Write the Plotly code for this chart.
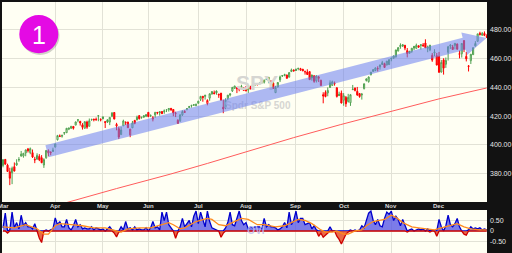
import plotly.graph_objects as go
import pandas as pd

# ---------------- data (SPY daily, Mar-Dec 2021) ----------------
holidays = ["2021-04-02", "2021-05-31", "2021-07-05", "2021-09-06", "2021-11-25", "2021-12-24"]
dates = pd.bdate_range("2021-03-01", "2021-12-31", freq="C", holidays=holidays)

opens = [
    385.6, 389.8, 385.8, 381.2, 380.5, 384.7, 385.9, 389.7, 392.2, 392.1, 394.3, 397.1, 394.5, 394.5, 389.9, 390.0, 391.9, 391.0, 385.9, 390.9, 394.4, 394.4, 395.3,
    398.4, 403.5, 405.8, 405.9, 408.1, 408.4, 410.9, 411.5, 412.8, 413.7, 417.3, 416.3, 413.9, 411.5, 415.9, 412.9, 417.4, 417.9, 417.8, 420.3, 417.6,
    419.4, 416.1, 417.4, 415.8, 419.9, 422.5, 413.1, 411.2, 407.1, 413.2, 415.4, 415.8, 406.9, 411.8, 416.9, 417.3, 420.3, 418.9, 420.2, 421.0,
    422.6, 420.4, 417.9, 420.8, 422.6, 423.1, 423.2, 423.0, 424.2, 424.4, 425.4, 424.6, 421.7, 417.1, 416.8, 420.9, 423.2, 424.9, 425.9, 427.2, 427.9, 427.2,
    428.9, 431.7, 433.8, 433.7, 428.8, 432.5, 435.4, 436.2, 437.4, 435.3, 436.0, 426.2, 425.7, 432.3, 434.7, 437.5, 439.3, 439.9, 439.7, 439.8, 437.9,
    440.3, 438.2, 439.8, 440.2, 442.1, 442.5, 442.6, 443.8, 443.6, 445.6, 444.5, 444.2, 443.0, 436.3, 440.2, 445.2, 448.2, 448.2, 448.6, 447.1, 451.0, 452.1,
    452.6, 453.3, 452.0, 452.7, 450.9, 450.7, 451.0, 448.6, 448.1, 444.6, 446.3, 444.9, 434.9, 436.5, 436.1, 439.9, 441.4, 442.8, 439.7, 435.2, 436.0,
    431.0, 433.0, 430.2, 429.3, 438.4, 439.5, 437.2, 435.7, 434.7, 439.1, 444.8, 444.0, 448.9, 451.1, 451.8, 453.1, 454.3, 457.2, 456.5, 455.5, 455.9,
    460.3, 460.3, 461.3, 465.4, 469.3, 469.7, 469.3, 465.6, 465.2, 465.1, 468.6, 467.2, 469.0, 469.2, 469.6, 470.9, 467.2, 466.1, 462.3, 464.1, 462.0,
    461.6, 450.7, 459.2, 456.1, 464.4, 468.7, 468.2, 469.2, 470.2, 463.1, 463.4, 472.6, 461.6, 454.5, 458.6, 462.8, 468.8, 472.1, 477.7, 476.4, 477.6, 475.6,
]
highs = [
    390.0, 390.1, 386.8, 384.0, 384.8, 387.7, 389.9, 391.4, 395.7, 394.2, 396.7, 397.8, 398.1, 396.7, 391.6, 394.1, 393.5, 392.8, 390.6, 396.4, 396.8, 395.5, 398.0,
    400.7, 406.9, 407.2, 406.9, 408.6, 411.7, 411.9, 413.0, 413.0, 416.2, 417.9, 416.7, 415.1, 416.3, 416.8, 418.3, 418.2, 418.1, 419.0, 420.7, 418.5,
    419.8, 416.6, 417.6, 419.2, 422.8, 422.7, 415.3, 412.6, 412.6, 417.5, 416.4, 416.1, 411.1, 416.6, 417.4, 420.3, 420.7, 419.6, 420.7, 421.3,
    422.7, 421.2, 420.0, 422.9, 422.8, 423.2, 423.3, 424.6, 424.4, 425.4, 425.5, 424.9, 423.0, 417.8, 421.1, 424.0, 424.1, 425.6, 427.1, 427.6, 428.1, 428.8,
    430.6, 434.1, 434.0, 434.8, 431.7, 435.8, 437.4, 437.8, 437.9, 435.5, 436.1, 431.4, 432.4, 434.7, 435.7, 440.3, 441.0, 439.9, 440.3, 441.8, 440.1,
    440.9, 441.3, 441.1, 441.9, 442.9, 442.8, 443.4, 443.9, 445.3, 445.9, 447.1, 445.0, 444.6, 441.1, 443.7, 448.2, 448.5, 449.5, 448.9, 450.7, 453.1, 452.5,
    453.1, 453.6, 453.6, 452.8, 451.7, 452.6, 451.4, 448.9, 448.3, 448.4, 448.0, 445.4, 436.6, 437.9, 440.0, 444.9, 444.7, 444.1, 440.0, 437.0, 437.8,
    436.0, 434.0, 435.5, 435.1, 441.7, 439.9, 440.3, 436.1, 436.1, 442.7, 446.3, 447.6, 450.7, 452.7, 453.8, 454.7, 455.9, 458.5, 457.2, 458.4, 459.6,
    460.7, 462.2, 466.2, 468.0, 470.7, 470.2, 469.6, 467.4, 465.3, 467.4, 468.8, 470.5, 469.2, 470.0, 470.9, 473.5, 469.1, 469.6, 463.9, 466.6, 464.0,
    464.7, 459.1, 460.3, 460.8, 468.9, 470.0, 469.6, 470.9, 470.6, 465.7, 470.9, 472.9, 464.7, 455.4, 463.2, 467.8, 472.2, 477.3, 478.8, 478.6, 479.0, 477.0,
]
lows = [
    384.3, 386.2, 381.3, 371.9, 372.6, 381.4, 385.3, 388.2, 391.7, 391.0, 392.0, 394.6, 393.4, 390.8, 387.2, 389.5, 388.6, 387.2, 383.9, 390.3, 392.0, 392.7, 395.0,
    398.2, 403.0, 405.4, 405.0, 406.9, 408.3, 410.2, 411.1, 410.6, 413.7, 415.7, 413.4, 410.6, 411.3, 411.1, 412.8, 416.8, 416.3, 416.9, 416.4, 416.3,
    417.7, 411.7, 415.2, 413.7, 419.2, 417.8, 410.1, 404.0, 407.0, 413.2, 413.8, 411.8, 405.3, 411.7, 414.3, 417.1, 417.6, 418.2, 418.9, 419.3,
    419.2, 419.3, 416.3, 418.8, 421.2, 420.3, 421.4, 421.6, 422.8, 423.1, 423.5, 419.9, 419.3, 414.7, 415.9, 420.1, 422.5, 424.0, 425.6, 425.9, 427.2, 427.2,
    428.8, 430.5, 430.0, 431.5, 427.5, 430.7, 435.0, 435.3, 434.9, 432.7, 430.5, 422.0, 424.8, 431.0, 433.7, 436.8, 439.3, 436.0, 437.3, 439.8, 437.8,
    437.2, 436.1, 438.7, 439.9, 441.1, 441.3, 441.9, 442.6, 442.7, 445.1, 442.9, 440.9, 438.9, 436.1, 440.0, 443.7, 447.3, 447.8, 446.2, 447.0, 450.7, 450.9,
    451.7, 451.9, 451.6, 451.3, 448.9, 448.7, 445.3, 444.7, 443.2, 443.4, 443.7, 441.0, 428.9, 433.1, 433.8, 439.6, 441.2, 441.2, 432.9, 433.9, 428.8,
    427.2, 426.4, 429.4, 427.1, 438.2, 437.2, 434.1, 432.8, 431.5, 438.6, 444.1, 443.3, 448.3, 451.0, 451.3, 451.1, 452.4, 455.6, 453.9, 455.5, 455.6,
    458.2, 460.1, 460.8, 465.0, 466.9, 468.2, 465.9, 460.9, 463.7, 464.1, 466.0, 467.1, 467.5, 466.3, 468.5, 467.4, 464.5, 465.2, 457.8, 461.7, 455.3,
    450.3, 450.3, 448.9, 453.6, 458.7, 466.8, 466.1, 466.5, 466.3, 460.2, 460.8, 464.6, 458.1, 451.1, 456.3, 462.6, 468.6, 472.0, 476.1, 475.9, 475.7, 474.4,
]
closes = [
    389.6, 386.5, 381.4, 376.7, 383.6, 381.7, 387.2, 389.6, 393.5, 394.1, 396.4, 395.9, 397.3, 391.5, 389.5, 392.6, 389.5, 387.5, 389.7, 396.0, 395.8, 394.7, 396.3,
    400.6, 406.4, 406.1, 406.6, 408.5, 411.5, 411.6, 412.9, 411.5, 415.9, 417.3, 415.2, 412.2, 416.1, 412.3, 416.7, 417.6, 417.5, 417.4, 420.1, 417.3,
    418.2, 415.6, 415.8, 419.1, 422.1, 417.9, 414.2, 405.4, 410.3, 416.6, 415.5, 411.9, 410.9, 415.3, 414.9, 419.2, 418.2, 419.1, 419.3, 420.0,
    419.7, 420.3, 418.8, 422.6, 422.2, 422.3, 421.7, 423.6, 424.3, 425.3, 424.5, 422.1, 422.0, 414.9, 420.9, 423.1, 422.6, 425.1, 426.6, 427.5, 427.7, 428.1,
    430.4, 433.7, 432.9, 434.5, 430.9, 435.5, 437.1, 435.6, 436.2, 434.8, 431.3, 425.0, 431.1, 434.6, 435.5, 440.0, 441.0, 439.0, 438.8, 440.6, 438.5,
    437.6, 441.2, 439.0, 441.8, 442.5, 442.1, 443.0, 444.0, 445.1, 445.9, 447.0, 444.0, 439.2, 439.9, 443.4, 447.3, 448.0, 448.9, 446.3, 450.3, 452.2, 451.6,
    451.8, 453.2, 453.1, 451.5, 450.9, 449.0, 445.4, 446.6, 444.2, 447.9, 447.2, 441.4, 434.0, 433.6, 437.9, 443.2, 443.9, 442.6, 433.7, 434.4, 429.1,
    434.2, 428.6, 433.1, 434.9, 438.7, 437.9, 434.7, 433.6, 435.2, 442.5, 445.9, 447.2, 450.6, 452.4, 453.6, 453.1, 455.6, 456.0, 453.9, 458.3, 459.3,
    460.0, 461.9, 466.1, 467.7, 468.5, 468.9, 467.4, 463.6, 463.8, 467.3, 467.4, 469.3, 468.1, 469.7, 468.9, 467.6, 468.2, 469.4, 459.0, 464.6, 455.6,
    450.5, 457.4, 453.4, 458.8, 468.3, 469.5, 466.4, 470.7, 466.6, 463.4, 470.6, 466.5, 459.9, 455.0, 463.1, 467.7, 470.6, 477.3, 476.9, 477.5, 476.2, 475.0,
]

# 200-day moving average (read at a few points: trading-day index, value)
ma_idx = [20, 28.6, 50, 73.6, 90, 107, 128, 148.5, 170, 192, 213]
ma_val = [356.5, 360.0, 369.5, 379.5, 387.0, 395.2, 405.0, 414.0, 423.0, 432.0, 439.6]

# OVI oscillator, one value per trading day
ovi = [
    0.15, 0.85, -0.10, 0.05, 0.90, 0.15, 0.40, 0.10, 0.75, 0.25, 0.40, 0.20, 0.20, 0.10, 0.35, 0.00, -0.35, -0.55, 0.00, 0.05,
    0.00, 0.05, 0.10, 0.62, 0.30, 0.45, 0.20, 0.20, 0.55, 0.15, 0.05, 0.25, 0.55, 0.20, 0.30, 0.10, 0.15, 0.10, 0.10, 0.20,
    0.05, 0.15, 0.10, 0.05, 0.10, 0.00, 0.10, 0.20, 0.05, -0.10, -0.28, -0.05, 0.20, 0.05, 0.45, 0.10, 0.15, 0.05, 0.20, 0.05,
    0.10, 0.05, 0.05, 0.15, 0.00, 0.15, 0.45, 0.15, 0.20, 0.05, 0.90, 0.50, 0.90, 0.30, 0.15, 0.00, -0.35, -0.05, 0.20, 0.60,
    0.20, 0.35, 0.50, 0.20, 0.70, 0.95, 0.35, 0.90, 0.50, 0.20, 0.95, 0.45, 0.15, 0.10, 0.05, 0.00, -0.30, -0.10, 0.15, 0.40,
    0.90, 0.30, 0.25, 0.65, 0.95, 0.50, 0.30, 0.40, 0.10, 0.20, 0.15, 0.20, 0.20, 0.20, 0.10, 0.60, 0.20, 0.30, 0.20, 0.20,
    0.15, 0.05, 0.10, 0.20, 0.40, 0.15, 0.90, 0.30, 0.50, 0.95, 0.40, 0.60, 0.60, 0.30, 0.35, 0.40, 0.10, 0.25, 0.05, -0.25,
    -0.10, -0.30, -0.20, -0.10, 0.20, 0.00, 0.00, -0.25, -0.40, -0.62, -0.35, -0.15, -0.05, 0.05, 0.00, 0.05, 0.00, 0.05, 0.25, 0.15,
    0.55, 0.85, 0.95, 0.50, 0.30, 0.55, 0.25, 0.20, 0.60, 0.90, 0.80, 0.95, 0.50, 0.70, 0.55, 0.25, 0.55, 0.30, -0.05, 0.05,
    0.10, 0.00, 0.05, 0.10, 0.05, 0.10, 0.00, 0.10, -0.05, 0.05, 0.00, -0.25, 0.55, 0.20, 0.00, 0.25, 0.75, 0.30, 0.20, 0.35,
    0.60, 0.20, 0.00, -0.15, -0.20, 0.05, 0.20, 0.10, 0.15, 0.10, 0.15, 0.05, 0.10, 0.05,
]
# OVI signal line (read every few days: trading-day index, value)
sig_idx = [0, 5, 10, 15, 18, 20, 23, 25, 30, 35, 40, 45, 50, 52, 55, 60, 65, 70, 73, 75, 78, 80, 85, 90, 92, 95, 98, 100,
           105, 108, 112, 115, 120, 124, 128, 130, 133, 136, 138, 140, 142, 145, 147, 150, 152, 155, 158, 160, 163, 166, 168,
           171, 173, 176, 178, 180, 183, 186, 190, 193, 196, 200, 203, 206, 210, 213]
sig_val = [0.20, 0.15, 0.30, 0.10, -0.15, -0.15, 0.25, 0.35, 0.30, 0.25, 0.15, 0.15, 0.00, -0.05, 0.10, 0.15, 0.15, 0.30, 0.40, 0.30, 0.10, 0.15, 0.45, 0.60, 0.55, 0.30, 0.25, 0.35,
           0.60, 0.55, 0.30, 0.30, 0.20, 0.25, 0.45, 0.55, 0.50, 0.35, 0.20, 0.05, -0.05, -0.05, 0.00, -0.15, -0.15, 0.00, 0.05, 0.25, 0.45, 0.50, 0.55,
           0.75, 0.65, 0.40, 0.30, 0.20, 0.15, 0.10, 0.05, 0.15, 0.25, 0.35, 0.20, 0.10, 0.05, 0.05]

price_ticks = [380, 400, 420, 440, 460, 480]
ovi_ticks = [-0.5, 0, 0.5]
ovi_tick_text = ["-0.50", "0", "0.50"]

# ---------------- layout geometry ----------------
W, H = 512, 253
X_LO, X_HI = -0.44, 213.12
Y_LO, Y_HI = 360.13, 499.5
Y2_LO, Y2_HI = -1.048, 1.0
XD = [2 / W, 487 / W]
YD = [1 - 202 / H, 1 - 2 / H]
Y2D = [0.0, 1 - 210 / H]
PXX = (XD[1] - XD[0]) * W / (X_HI - X_LO)
PXY = (YD[1] - YD[0]) * H / (Y_HI - Y_LO)

def to_px(i, p):
    return 2 + (i - X_LO) * PXX, 2 + (Y_HI - p) * PXY

def to_data(x, y):
    return X_LO + (x - 2) / PXX, Y_HI - (y - 2) / PXY

idx = list(range(len(closes)))
BG = "#fffff3"
DARK = "#121212"

fig = go.Figure()

# watermarks (below data)
fig.add_trace(go.Scatter(x=[111.8], y=[441.7], mode="text", text=["SPY"],
                         textfont=dict(size=21, color="#d6d6d2", family="Liberation Sans", weight="bold"),
                         hoverinfo="skip", showlegend=False))
fig.add_trace(go.Scatter(x=[112.2], y=[427.0], mode="text", text=["Spdr S&P 500"],
                         textfont=dict(size=10, color="#d6d6d2", family="Liberation Sans", weight="bold"),
                         hoverinfo="skip", showlegend=False))

# moving average
fig.add_trace(go.Scatter(x=ma_idx, y=ma_val, mode="lines", line=dict(color="#ff5c5c", width=1),
                         hoverinfo="skip", showlegend=False))

# candles split by close vs previous close
up_i, dn_i = [], []
for k in idx:
    prev = closes[k - 1] if k > 0 else opens[k]
    (up_i if closes[k] >= prev else dn_i).append(k)

def sub(arr, ii):
    return [arr[k] for k in ii]

for ii, col, fillc in [(up_i, "#4fa04f", "#2a8a2a"), (dn_i, "#ff0000", "#ff0000")]:
    fig.add_trace(go.Candlestick(
        x=ii, open=sub(opens, ii), high=sub(highs, ii), low=sub(lows, ii), close=sub(closes, ii),
        increasing=dict(line=dict(color=col, width=1), fillcolor=BG),
        decreasing=dict(line=dict(color=col, width=1), fillcolor=fillc),
        whiskerwidth=0, showlegend=False, hoverinfo="skip"))

# OVI oscillator
pos = [max(v, 0) for v in ovi]
neg = [min(v, 0) for v in ovi]
fig.add_trace(go.Scatter(x=idx, y=pos, mode="lines", fill="tozeroy", fillcolor="rgba(80,80,230,0.75)",
                         line=dict(color="#0000cc", width=1.3), xaxis="x2", yaxis="y2",
                         hoverinfo="skip", showlegend=False))
fig.add_trace(go.Scatter(x=idx, y=neg, mode="lines", fill="tozeroy", fillcolor="rgba(230,80,40,0.85)",
                         line=dict(color="#cc0000", width=1.3), xaxis="x2", yaxis="y2",
                         hoverinfo="skip", showlegend=False))
fig.add_trace(go.Scatter(x=[111.4], y=[-0.02], mode="text", text=["OVI"], xaxis="x2", yaxis="y2",
                         textfont=dict(size=10, color="rgba(190,190,240,0.85)", family="Liberation Sans", weight="bold"),
                         hoverinfo="skip", showlegend=False))
fig.add_trace(go.Scatter(x=sig_idx, y=sig_val, mode="lines", line=dict(color="#ff8a1c", width=1.3),
                         xaxis="x2", yaxis="y2", hoverinfo="skip", showlegend=False))

# month markers
month_idx = [0] + [k for k in range(1, len(dates)) if dates[k].month != dates[k - 1].month]
month_txt = [dates[k].strftime("%b") for k in month_idx]

# trend arrow (tail / tip in data coords, widths in px)
arrow_tail = (19.37, 395.5)
arrow_tip = (212.9, 474.4)
shaft_half, head_half, head_len = 6.3, 11.6, 23.0
tx, ty = to_px(*arrow_tail)
px_, py_ = to_px(*arrow_tip)
L = ((px_ - tx) ** 2 + (py_ - ty) ** 2) ** 0.5
ux, uy = (px_ - tx) / L, (py_ - ty) / L
nx, ny = -uy, ux
bx, by = px_ - head_len * ux, py_ - head_len * uy
verts = [(tx - shaft_half * nx, ty - shaft_half * ny), (bx - shaft_half * nx, by - shaft_half * ny),
         (bx - head_half * nx, by - head_half * ny), (px_, py_),
         (bx + head_half * nx, by + head_half * ny), (bx + shaft_half * nx, by + shaft_half * ny),
         (tx + shaft_half * nx, ty + shaft_half * ny)]
path = "M " + " L ".join("%.3f,%.3f" % to_data(x, y) for x, y in verts) + " Z"

shapes = [
    dict(type="path", path=path, xref="x", yref="y", fillcolor="rgba(105,125,240,0.55)",
         line=dict(width=0), layer="above"),
    dict(type="circle", xref="paper", yref="paper", x0=20.5 / W, x1=59.5 / W, y0=1 - 55 / H, y1=1 - 16.5 / H,
         fillcolor="rgba(0,0,0,0.18)", line=dict(width=0), layer="above"),
    dict(type="circle", xref="paper", yref="paper", x0=19.3 / W, x1=58.3 / W, y0=1 - 53.3 / H, y1=1 - 15 / H,
         fillcolor="#e40ae4", line=dict(width=0), layer="above"),
]

annotations = [dict(x=38.8 / W, y=1 - 34.5 / H, xref="paper", yref="paper", text="1", showarrow=False,
                    xanchor="center", yanchor="middle",
                    font=dict(size=25, color="white", family="Liberation Sans"))]
for k, t in zip(month_idx, month_txt):
    annotations.append(dict(x=k, y=1 - 206 / H, xref="x", yref="paper", text=t, showarrow=False,
                            font=dict(size=6, color="#d8d8d8", family="Liberation Sans", weight="bold"),
                            xanchor="center", yanchor="middle"))

grid = "#e2e2d6"
fig.update_layout(
    width=W, height=H, margin=dict(l=0, r=0, t=0, b=0),
    paper_bgcolor=DARK, plot_bgcolor=BG, showlegend=False,
    shapes=shapes, annotations=annotations,
    xaxis=dict(domain=XD, range=[X_LO, X_HI], tickvals=month_idx, showticklabels=False, ticks="",
               showgrid=True, gridcolor=grid, gridwidth=1, zeroline=False, rangeslider=dict(visible=False),
               anchor="y", fixedrange=True),
    yaxis=dict(domain=YD, range=[Y_LO, Y_HI], side="right", tickvals=price_ticks,
               ticktext=["%.2f" % v for v in price_ticks], ticks="", ticklabelstandoff=2,
               tickfont=dict(size=7, color="#e6e6e6", family="Liberation Sans"),
               showgrid=True, gridcolor=grid, zeroline=False, anchor="x"),
    xaxis2=dict(domain=XD, range=[X_LO, X_HI], matches="x", tickvals=month_idx, showticklabels=False,
                ticks="", showgrid=True, gridcolor=grid, zeroline=False, anchor="y2"),
    yaxis2=dict(domain=Y2D, range=[Y2_LO, Y2_HI], side="right", tickvals=ovi_ticks, ticktext=ovi_tick_text,
                ticks="", ticklabelstandoff=2, tickfont=dict(size=7, color="#e6e6e6", family="Liberation Sans"),
                showgrid=True, gridcolor=grid, zeroline=False, anchor="x2"),
)

fig.write_html("out.html")
